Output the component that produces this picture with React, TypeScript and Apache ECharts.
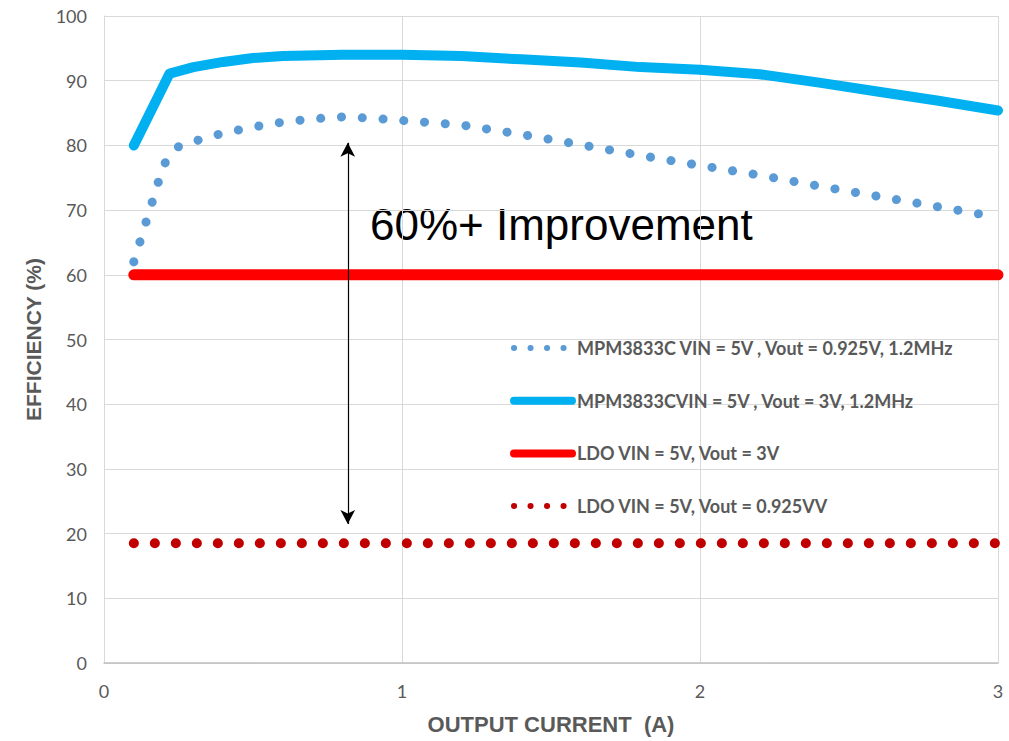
import React, { useEffect, useRef } from "react";
import * as echarts from "echarts";

// ---- data ----
const legendNames = [
  "MPM3833C VIN = 5V , Vout = 0.925V, 1.2MHz",
  "MPM3833CVIN = 5V , Vout = 3V, 1.2MHz",
  "LDO VIN = 5V, Vout = 3V",
  "LDO VIN = 5V, Vout = 0.925VV",
];

const mpm0925X = [0.1, 0.2, 0.25, 0.3, 0.4, 0.5, 0.6, 0.7, 0.8, 0.9, 1.0, 1.2, 1.4, 1.6, 1.8, 2.0, 2.2, 2.4, 2.6, 2.8, 3.0];
const mpm0925Y = [62, 77, 79.8, 80.6, 81.9, 82.85, 83.6, 84.1, 84.4, 84.2, 83.85, 83.15, 81.7, 80.1, 78.45, 76.9, 75.4, 73.7, 72.1, 70.5, 68.9];

const mpm3vX = [0.1, 0.22, 0.3, 0.4, 0.5, 0.6, 0.8, 1.0, 1.2, 1.4, 1.6, 1.8, 2.0, 2.2, 2.4, 2.6, 2.8, 3.0];
const mpm3vY = [80, 91.1, 92.1, 92.9, 93.5, 93.8, 94.0, 94.0, 93.8, 93.3, 92.8, 92.1, 91.7, 91.0, 89.7, 88.3, 86.9, 85.4];

const ldo3vX = [0.1, 3.0];
const ldo3vY = [60, 60];

const ldo0925X = [0.1, 3.0];
const ldo0925Y = [18.5, 18.5];

const arrowX = [0.818, 0.818];
const arrowY = [80.4, 21.5];

const xTickValues = [0, 1, 2, 3];
const yTickValues = [0, 10, 20, 30, 40, 50, 60, 70, 80, 90, 100];

const annotationText = "60%+ Improvement";
const xAxisName = "OUTPUT CURRENT  (A)";
const yAxisName = "EFFICIENCY (%)";

const zip = (xs: number[], ys: number[]) => xs.map((x, i) => [x, ys[i]]);

const LABEL_FONT = "Lato";
const GRAY = "#595959";
const NO_SYMBOL = { color: "rgba(0,0,0,0)", borderWidth: 0, opacity: 0 };

export default function App() {
  const ref = useRef<HTMLDivElement>(null);
  useEffect(() => {
    if (!ref.current) return;
    const chart = echarts.init(ref.current, undefined, { renderer: "svg" });
    const colors = ["#5B9BD5", "#00B0F0", "#FF0000", "#C00000"];
    chart.setOption({
      animation: false,
      backgroundColor: "#ffffff",
      grid: { left: 104, right: 11, top: 16, bottom: 78, containLabel: false },
      xAxis: {
        type: "value",
        min: xTickValues[0],
        max: xTickValues[xTickValues.length - 1],
        interval: 1,
        name: xAxisName,
        nameLocation: "middle",
        nameGap: 50,
        nameTextStyle: { fontFamily: "Liberation Sans", fontWeight: "bold", fontSize: 22, color: GRAY },
        axisLine: { show: true, lineStyle: { color: "#BFBFBF", width: 1.5 } },
        axisTick: { show: false },
        axisLabel: { fontFamily: LABEL_FONT, fontSize: 18, color: GRAY, margin: 19 },
        splitLine: { show: true, lineStyle: { color: "#D9D9D9", width: 1 } },
      },
      yAxis: {
        type: "value",
        min: yTickValues[0],
        max: yTickValues[yTickValues.length - 1],
        interval: 10,
        name: yAxisName,
        nameLocation: "middle",
        nameGap: 60,
        nameTextStyle: { fontFamily: "Liberation Sans", fontWeight: "bold", fontSize: 21, color: GRAY },
        axisLine: { show: true, lineStyle: { color: "#D9D9D9", width: 1 } },
        axisTick: { show: false },
        axisLabel: { fontFamily: LABEL_FONT, fontSize: 18, color: GRAY, margin: 17 },
        splitLine: { show: true, lineStyle: { color: "#D9D9D9", width: 1 } },
      },
      legend: {
        orient: "vertical",
        left: 510,
        top: 339,
        padding: 0,
        itemWidth: 58,
        itemHeight: 14,
        itemGap: 34.7,
        selectedMode: false,
        textStyle: { fontFamily: LABEL_FONT, fontWeight: "bold", fontSize: 18, color: GRAY },
        data: [
          { name: legendNames[0], itemStyle: NO_SYMBOL, lineStyle: { width: 6, color: colors[0], type: [0.1, 16.4], cap: "round" } },
          { name: legendNames[1], itemStyle: NO_SYMBOL, lineStyle: { width: 8, color: colors[1], type: "solid", cap: "round" } },
          { name: legendNames[2], itemStyle: NO_SYMBOL, lineStyle: { width: 8, color: colors[2], type: "solid", cap: "round" } },
          { name: legendNames[3], itemStyle: NO_SYMBOL, lineStyle: { width: 6, color: colors[3], type: [0.1, 16.4], cap: "round" } },
        ],
      },
      graphic: [
        {
          type: "text",
          x: 370,
          y: 224,
          style: {
            text: annotationText,
            fontFamily: "Liberation Sans",
            fontSize: 44,
            fill: "#000000",
            verticalAlign: "middle",
          },
          silent: true,
        },
      ],
      series: [
        {
          name: legendNames[0],
          type: "line",
          data: zip(mpm0925X, mpm0925Y),
          symbol: "none",
          showSymbol: false,
          color: colors[0],
          lineStyle: { width: 9, color: colors[0], type: [0.1, 20.7], cap: "round", join: "round" },
          z: 3,
        },
        {
          name: legendNames[1],
          type: "line",
          data: zip(mpm3vX, mpm3vY),
          symbol: "none",
          showSymbol: false,
          color: colors[1],
          lineStyle: { width: 10, color: colors[1], cap: "round", join: "round" },
          z: 3,
        },
        {
          name: legendNames[2],
          type: "line",
          data: zip(ldo3vX, ldo3vY),
          symbol: "none",
          showSymbol: false,
          color: colors[2],
          lineStyle: { width: 11, color: colors[2], cap: "round", join: "round" },
          z: 3,
          markLine: {
            silent: true,
            symbol: ["arrow", "arrow"],
            symbolSize: [11, 14],
            label: { show: false },
            lineStyle: { color: "#000000", width: 1.2, type: "solid" },
            emphasis: { disabled: true },
            data: [[{ coord: [arrowX[0], arrowY[0]] }, { coord: [arrowX[1], arrowY[1]] }]],
          },
        },
        {
          name: legendNames[3],
          type: "line",
          data: zip(ldo0925X, ldo0925Y),
          symbol: "none",
          showSymbol: false,
          color: colors[3],
          lineStyle: { width: 10, color: colors[3], type: [0.1, 20.9], cap: "round" },
          z: 3,
        },
      ],
    });
    return () => chart.dispose();
  }, []);
  return (
    <div
      ref={ref}
      style={{ position: "absolute", left: 0, top: 0, width: 1009, height: 741 }}
    />
  );
}
